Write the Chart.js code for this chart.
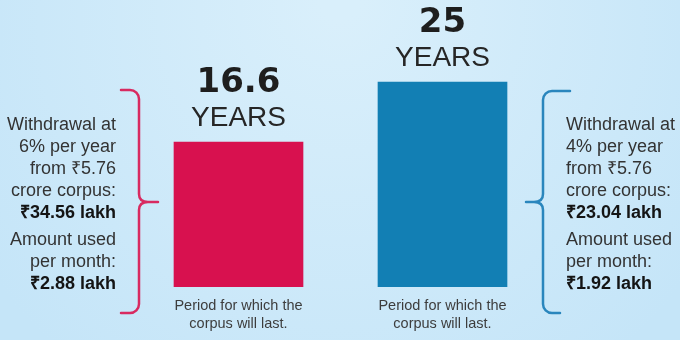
<!DOCTYPE html>
<html>
<head>
<meta charset="utf-8">
<script src="https://cdn.jsdelivr.net/npm/chart.js@4.4.1/dist/chart.umd.min.js"></script>
<style>
  html, body { margin: 0; padding: 0; background: #c8e6f8; }
  canvas { display: block; }
</style>
</head>
<body>
<canvas id="myChart" width="680" height="340"></canvas>
<script>
// data
var categories = ['Withdrawal at 6%', 'Withdrawal at 4%'];
var yearsLasting = [16.6, 25];
var withdrawalRates = ['6%', '4%'];
var corpusCrore = '₹5.76';
var yearlyWithdrawal = ['₹34.56 lakh', '₹23.04 lakh'];
var monthlyAmount = ['₹2.88 lakh', '₹1.92 lakh'];
var barColors = ['#d8114f', '#127fb4'];

var ctx = document.getElementById('myChart').getContext('2d');

// background wash
var bgPlugin = {
    id: 'bg',
    beforeDraw: function(chart) {
        var c = chart.ctx;
        var g = c.createRadialGradient(340, 0, 20, 340, 40, 420);
        g.addColorStop(0, '#d9effb');
        g.addColorStop(1, '#c5e5f8');
        c.save();
        c.fillStyle = g;
        c.fillRect(0, 0, chart.width, chart.height);
        c.restore();
    }
};

function drawBrace(c, side, color) {
    c.save();
    c.strokeStyle = color;
    c.lineWidth = 2.5;
    c.lineCap = 'round';
    c.beginPath();
    if (side === 'left') {
        var x = 139;
        c.moveTo(121, 90);
        c.arcTo(x, 90, x, 110, 9);
        c.lineTo(x, 194);
        c.quadraticCurveTo(x, 202, 148, 202);
        c.lineTo(158, 202);
        c.moveTo(148, 202);
        c.quadraticCurveTo(x, 202, x, 210);
        c.lineTo(x, 300);
        c.arcTo(x, 313, 121, 313, 9);
        c.lineTo(121, 313);
    } else {
        var x2 = 543;
        c.moveTo(570, 91);
        c.arcTo(x2, 91, x2, 110, 9);
        c.lineTo(x2, 194);
        c.quadraticCurveTo(x2, 202, 534, 202);
        c.lineTo(526, 202);
        c.moveTo(534, 202);
        c.quadraticCurveTo(x2, 202, x2, 210);
        c.lineTo(x2, 300);
        c.arcTo(x2, 313, 560, 313, 9);
        c.lineTo(560, 313);
    }
    c.stroke();
    c.restore();
}

function sideLines(i) {
    return [
        ['Withdrawal at', false],
        [withdrawalRates[i] + ' per year', false],
        ['from ' + corpusCrore, false],
        ['crore corpus:', false],
        [yearlyWithdrawal[i], true],
        ['Amount used', false],
        ['per month:', false],
        [monthlyAmount[i], true]
    ];
}

var labelPlugin = {
    id: 'labels',
    afterDatasetsDraw: function(chart) {
        var c = chart.ctx;
        var meta = chart.getDatasetMeta(0);
        c.save();
        c.textAlign = 'center';
        c.textBaseline = 'alphabetic';
        meta.data.forEach(function(bar, i) {
            var top = bar.y;
            c.fillStyle = '#1e1e1e';
            c.font = 'bold 34px "DejaVu Sans"';
            c.fillText(String(yearsLasting[i]), bar.x, top - 50);
            c.fillStyle = '#262626';
            c.font = '28px "Liberation Sans"';
            c.fillText('YEARS', bar.x, top - 16);
            c.fillStyle = '#3d3d3d';
            c.font = '14.5px "Liberation Sans"';
            c.fillText('Period for which the', bar.x, 310);
            c.fillText('corpus will last.', bar.x, 328);
        });

        var ys = [130, 152, 174, 196, 218, 245, 267, 289];
        [0, 1].forEach(function(i) {
            var lines = sideLines(i);
            c.textAlign = i === 0 ? 'right' : 'left';
            var x = i === 0 ? 116 : 566;
            lines.forEach(function(l, k) {
                c.font = (l[1] ? 'bold ' : '') + '18px "Liberation Sans"';
                c.fillStyle = l[1] ? '#141414' : '#333333';
                c.fillText(l[0], x, ys[k]);
            });
        });
        c.restore();

        drawBrace(c, 'left', '#d82a60');
        drawBrace(c, 'right', '#2a86bd');
    }
};

var graphData = {
    type: 'bar',
    data: {
        labels: categories,
        datasets: [{
            label: 'Years the corpus lasts',
            data: yearsLasting,
            backgroundColor: barColors,
            borderWidth: 0,
            base: -3.7,
            barThickness: 129
        }]
    },
    options: {
        responsive: false,
        animation: false,
        layout: { padding: { left: 136.5, right: 135.5, top: 0, bottom: 53 } },
        plugins: {
            legend: { display: false },
            tooltip: { enabled: false }
        },
        scales: {
            x: { display: false, offset: true },
            y: { display: false, min: -3.7, max: 36.5 }
        }
    },
    plugins: [bgPlugin, labelPlugin]
};

var myChart = new Chart(ctx, graphData);
</script>
</body>
</html>
